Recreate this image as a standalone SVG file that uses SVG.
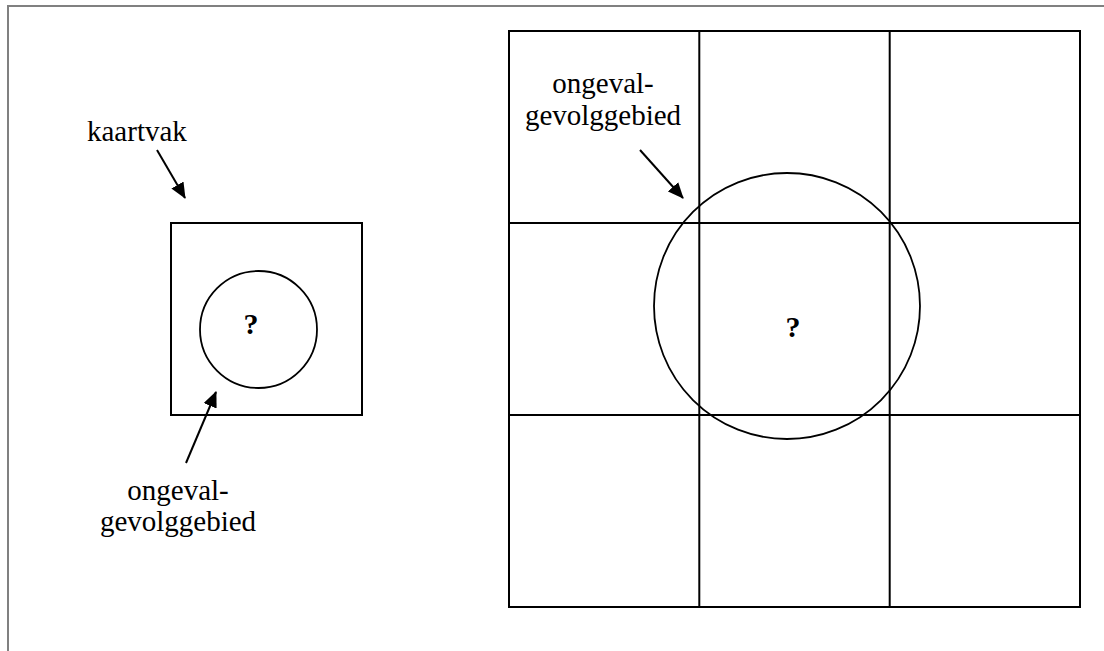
<svg xmlns="http://www.w3.org/2000/svg" width="1104" height="651" viewBox="0 0 1104 651">
<defs>
<marker id="ah" markerWidth="16" markerHeight="14" refX="15" refY="7" orient="auto" markerUnits="userSpaceOnUse">
<path d="M0,0 L16,7 L0,14 Z" fill="#000"/>
</marker>
<style>
.ln{stroke:#000;stroke-width:2;fill:none}
.cl{stroke:#000;stroke-width:1.8;fill:none}
.tx{font-size:29px;fill:#000}
.q{font-size:30px;font-weight:bold;fill:#000;text-anchor:middle}
.ar{stroke:#000;stroke-width:2;fill:none;marker-end:url(#ah)}
</style>
</defs>
<rect width="1104" height="651" fill="#fff"/>
<path d="M8,651 V6 H1104" stroke="#808080" stroke-width="2" fill="none"/>
<g font-family="Liberation Serif, Tinos, DejaVu Serif, serif">
<g id="kaartvak-klein">
<rect x="171" y="223" width="191" height="192" class="ln"/>
</g>
<g id="gebied-klein">
<circle cx="258.5" cy="329.5" r="58.5" class="cl"/>
<text x="251" y="334" class="q">?</text>
</g>
<g id="raster">
<rect x="509" y="31" width="571" height="576" class="ln"/>
<line x1="699.3" y1="31" x2="699.3" y2="607" class="ln"/>
<line x1="889.7" y1="31" x2="889.7" y2="607" class="ln"/>
<line x1="509" y1="223" x2="1080" y2="223" class="ln"/>
<line x1="509" y1="415" x2="1080" y2="415" class="ln"/>
</g>
<g id="gebied-groot">
<circle cx="787" cy="306" r="133" class="cl"/>
<text x="793" y="337" class="q">?</text>
</g>
<g id="label-kaartvak">
<text x="87" y="141" class="tx">kaartvak</text>
</g>
<g id="label-gebied-links">
<text x="178" y="500" class="tx" text-anchor="middle">ongeval-</text>
<text x="178" y="531" class="tx" text-anchor="middle">gevolggebied</text>
</g>
<g id="label-gebied-rechts">
<text x="603" y="93" class="tx" text-anchor="middle">ongeval-</text>
<text x="603" y="125" class="tx" text-anchor="middle">gevolggebied</text>
</g>
</g>
<g id="connectors">
<line x1="157" y1="150" x2="185" y2="198" class="ar"/>
<line x1="186" y1="463" x2="216" y2="392" class="ar"/>
<line x1="640" y1="150" x2="683" y2="198" class="ar"/>
</g>
</svg>
